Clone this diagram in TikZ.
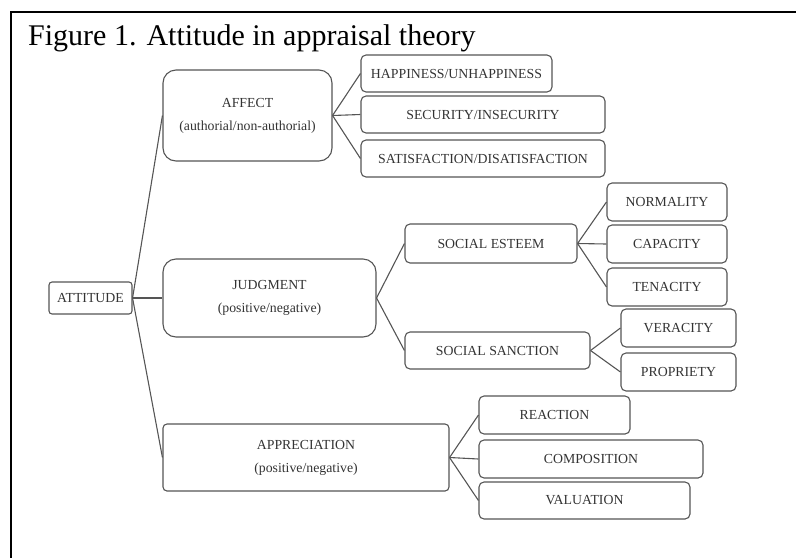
\documentclass[tikz,border=0pt]{standalone}
\usepackage{fontspec}
\setmainfont{Liberation Serif}
\usepackage{tikz}
\usetikzlibrary{arrows.meta}
\definecolor{boxline}{HTML}{555555}
\definecolor{boxtext}{HTML}{333333}
\tikzset{
  frame line/.style={
    line width=1.5pt,
    color=black
  },
  cat box/.style={
    draw=boxline,
    line width=1.1pt,
    rounded corners=5pt,
    inner sep=0pt,
    align=center,
    text=boxtext,
    font=\fontsize{13.8}{23}\selectfont
  },
  big box/.style={
    cat box,
    rounded corners=13pt
  },
  branch/.style={
    -,
    line width=1.1pt,
    color=boxline
  }
}

\begin{document}
\begin{tikzpicture}[x=1pt, y=-1pt]
    % 画布与外框（只有上边和左边）
    \useasboundingbox (0, 0) rectangle (796, 558);
    \draw[frame line] (796, 12) -- (11, 12) -- (11, 558);
    \node[anchor=base west, inner sep=0pt, font=\fontsize{30}{35}\selectfont] (title) at (28, 45) {Figure 1. Attitude in appraisal theory};

    % 根节点
    \node[cat box, rounded corners=3pt, minimum width=83pt, minimum height=32pt] (attitude) at (90.5, 298) {ATTITUDE};

    % 第一层
    \node[big box, minimum width=169pt, minimum height=91pt] (affect) at (247.5, 115.5) {AFFECT\\(authorial/non-authorial)};
    \node[big box, minimum width=213pt, minimum height=78pt] (judgment) at (269.5, 298) {JUDGMENT\\(positive/negative)};
    \node[cat box, rounded corners=4pt, minimum width=286pt, minimum height=67pt] (appreciation) at (306, 457.5) {APPRECIATION\\(positive/negative)};

    % AFFECT 分支
    \node[cat box, minimum width=191pt, minimum height=37pt] (happiness) at (456.5, 73.5) {HAPPINESS/UNHAPPINESS};
    \node[cat box, minimum width=244pt, minimum height=37pt] (security) at (483, 114.5) {SECURITY/INSECURITY};
    \node[cat box, minimum width=244pt, minimum height=37pt] (satisfaction) at (483, 158.5) {SATISFACTION/DISATISFACTION};

    % JUDGMENT 分支
    \node[cat box, minimum width=172pt, minimum height=39pt] (esteem) at (491, 243.5) {SOCIAL ESTEEM};
    \node[cat box, minimum width=185pt, minimum height=37pt] (sanction) at (497.5, 350.5) {SOCIAL SANCTION};

    \node[cat box, minimum width=120pt, minimum height=38pt] (normality) at (667, 202) {NORMALITY};
    \node[cat box, minimum width=120pt, minimum height=38pt] (capacity) at (667, 244) {CAPACITY};
    \node[cat box, minimum width=120pt, minimum height=38pt] (tenacity) at (667, 287) {TENACITY};

    \node[cat box, minimum width=115pt, minimum height=38pt] (veracity) at (678.5, 328) {VERACITY};
    \node[cat box, minimum width=115pt, minimum height=38pt] (propriety) at (678.5, 372) {PROPRIETY};

    % APPRECIATION 分支
    \node[cat box, minimum width=151pt, minimum height=38pt] (reaction) at (554.5, 415) {REACTION};
    \node[cat box, minimum width=224pt, minimum height=38pt] (composition) at (591, 459) {COMPOSITION};
    \node[cat box, minimum width=211pt, minimum height=37pt] (valuation) at (584.5, 500.5) {VALUATION};

    % 连线
    \foreach \c in {affect, judgment, appreciation} {
      \draw[branch] (attitude.east) -- (\c.west);
    }
    \foreach \c in {happiness, security, satisfaction} {
      \draw[branch] (affect.east) -- (\c.west);
    }
    \foreach \c in {esteem, sanction} {
      \draw[branch] (judgment.east) -- (\c.west);
    }
    \foreach \c in {normality, capacity, tenacity} {
      \draw[branch] (esteem.east) -- (\c.west);
    }
    \foreach \c in {veracity, propriety} {
      \draw[branch] (sanction.east) -- (\c.west);
    }
    \foreach \c in {reaction, composition, valuation} {
      \draw[branch] (appreciation.east) -- (\c.west);
    }

  \end{tikzpicture}
\end{document}
